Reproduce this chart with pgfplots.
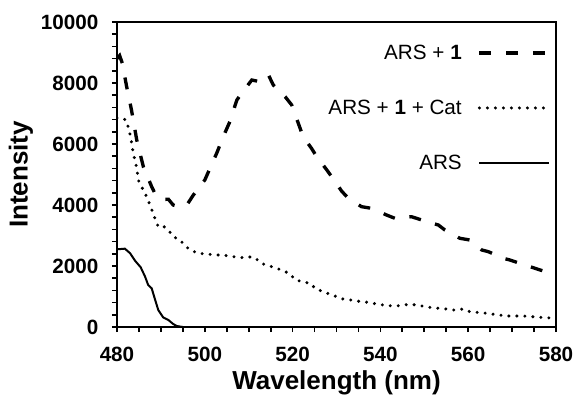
\documentclass[border=0pt]{standalone}
\usepackage{fontspec}
\setmainfont{Liberation Sans}
\usepackage{pgfplots}
\pgfplotsset{compat=1.18}
\begin{document}
\begin{tikzpicture}
\useasboundingbox (-87.75pt,-54.75pt) rectangle (345pt,245.25pt);
\begin{axis}[
  at={(0,0)}, anchor=south west,
  scale only axis, width=329.25pt, height=228.75pt,
  xmin=480, xmax=580, ymin=0, ymax=10000,
  xtick={480,500,...,580}, ytick={0,2000,...,10000},
  minor x tick num=3, minor y tick num=4,
  tick pos=left, tick align=outside,
  major tick length=3.75pt, minor tick length=3.75pt,
  tick style={line width=1.3pt, black},
  axis line style={line width=1.4pt},
  scaled ticks=false,
  /pgf/number format/1000 sep={},
  /pgf/number format/assume math mode=true,
  tick label style={font=\fontsize{15.5}{18}\selectfont\bfseries},
  xticklabel style={yshift=-8pt},
  yticklabel style={xshift=-6.75pt},
  xlabel={Wavelength (nm)}, ylabel={Intensity},
  every axis x label/.style={at={(axis description cs:0.5,0)}, anchor=center, yshift=-42pt,
    font=\fontsize{19.5}{23}\selectfont\bfseries},
  every axis y label/.style={at={(axis description cs:-0.2187,0.5)}, anchor=center, rotate=90,
    font=\fontsize{19.5}{23}\selectfont\bfseries},
  legend style={draw=none, fill=none, at={(rel axis cs:0.997,0.944)}, anchor=north east,
    font=\fontsize{15.5}{18}\selectfont, row sep=25pt},
  legend cell align=right, legend plot pos=right,
  legend image code/.code={\path (0pt,0pt); \draw[#1] (10pt,0pt) -- (62pt,0pt);},
]
\addplot[black, line width=2.5pt, dash pattern=on 9pt off 11pt] coordinates {
(480,8800)(480.6,8900)(481.2,8650)(482.2,7880)(483.3,7115)(484.5,6130)(486,5256)
(487.9,4600)(489,4272)(490.5,4180)(491.7,4190)(492.8,4000)(494,3950)(495.9,4000)
(497.4,4328)(500,4820)(502.7,5695)(504.2,6240)(505.7,6730)(507.3,7443)(508.4,7662)
(510.7,8098)(512.6,8043)(514.5,8262)(515.6,7934)(518.3,7551)(519.8,7279)(521.3,6679)
(522.4,6240)(524.3,5859)(525.5,5584)(527.8,5148)(528.9,4928)(531.2,4450)(532.7,4220)
(535.7,3945)(538,3891)(541.4,3672)(543.3,3564)(547.1,3616)(549.4,3508)(553.2,3344)
(554.7,3180)(558.1,2908)(560.4,2852)(563.1,2525)(564.6,2469)(568,2252)(569.5,2197)
(574.1,1977)(576.4,1869)(580,1705)};
\addlegendentry{ARS + \textbf{1}}
\addplot[black, line width=2.5pt, line cap=round, dash pattern=on 0pt off 6pt] coordinates {
(480,6850)(481.3,6842)(482.2,6765)(482.6,6513)(483.1,6240)(483.7,5694)(484.1,5475)
(484.5,5203)(484.9,4800)(485.6,4600)(486.4,4380)(487.1,4150)(488.1,3780)(488.7,3531)
(489.4,3289)(490.5,3311)(491.7,3180)(492.8,2961)(494.4,2852)(495.5,2656)(497,2503)
(498.5,2416)(500.4,2393)(502.3,2361)(503.8,2361)(505.7,2328)(507.3,2285)(509.2,2272)
(510.7,2305)(511.8,2220)(513.3,2066)(516.4,1924)(518,1840)(519.5,1730)(520.5,1560)
(522,1490)(524,1430)(525.3,1250)(528.5,1076)(531.5,918)(532.3,908)(535.7,830)
(537.2,810)(539.1,754)(540.7,721)(542.6,689)(544.5,699)(546.4,744)(548.3,721)
(551.7,633)(555.1,590)(556.6,557)(558.9,590)(560.4,502)(564.2,449)(568.7,361)
(572.6,361)(576.4,318)(580,285)};
\addlegendentry{ARS + \textbf{1} + Cat}
\addplot[black, line width=1.5pt] coordinates {
(480,2547)(481.8,2568)(483,2416)(484.1,2175)(485.4,1957)(486.4,1650)(487.1,1377)
(487.9,1268)(488.7,885)(489.4,557)(490.5,318)(491.7,230)(492.8,98)(493.6,33)(495,0)};
\addlegendentry{ARS}
\end{axis}
\end{tikzpicture}
\end{document}
